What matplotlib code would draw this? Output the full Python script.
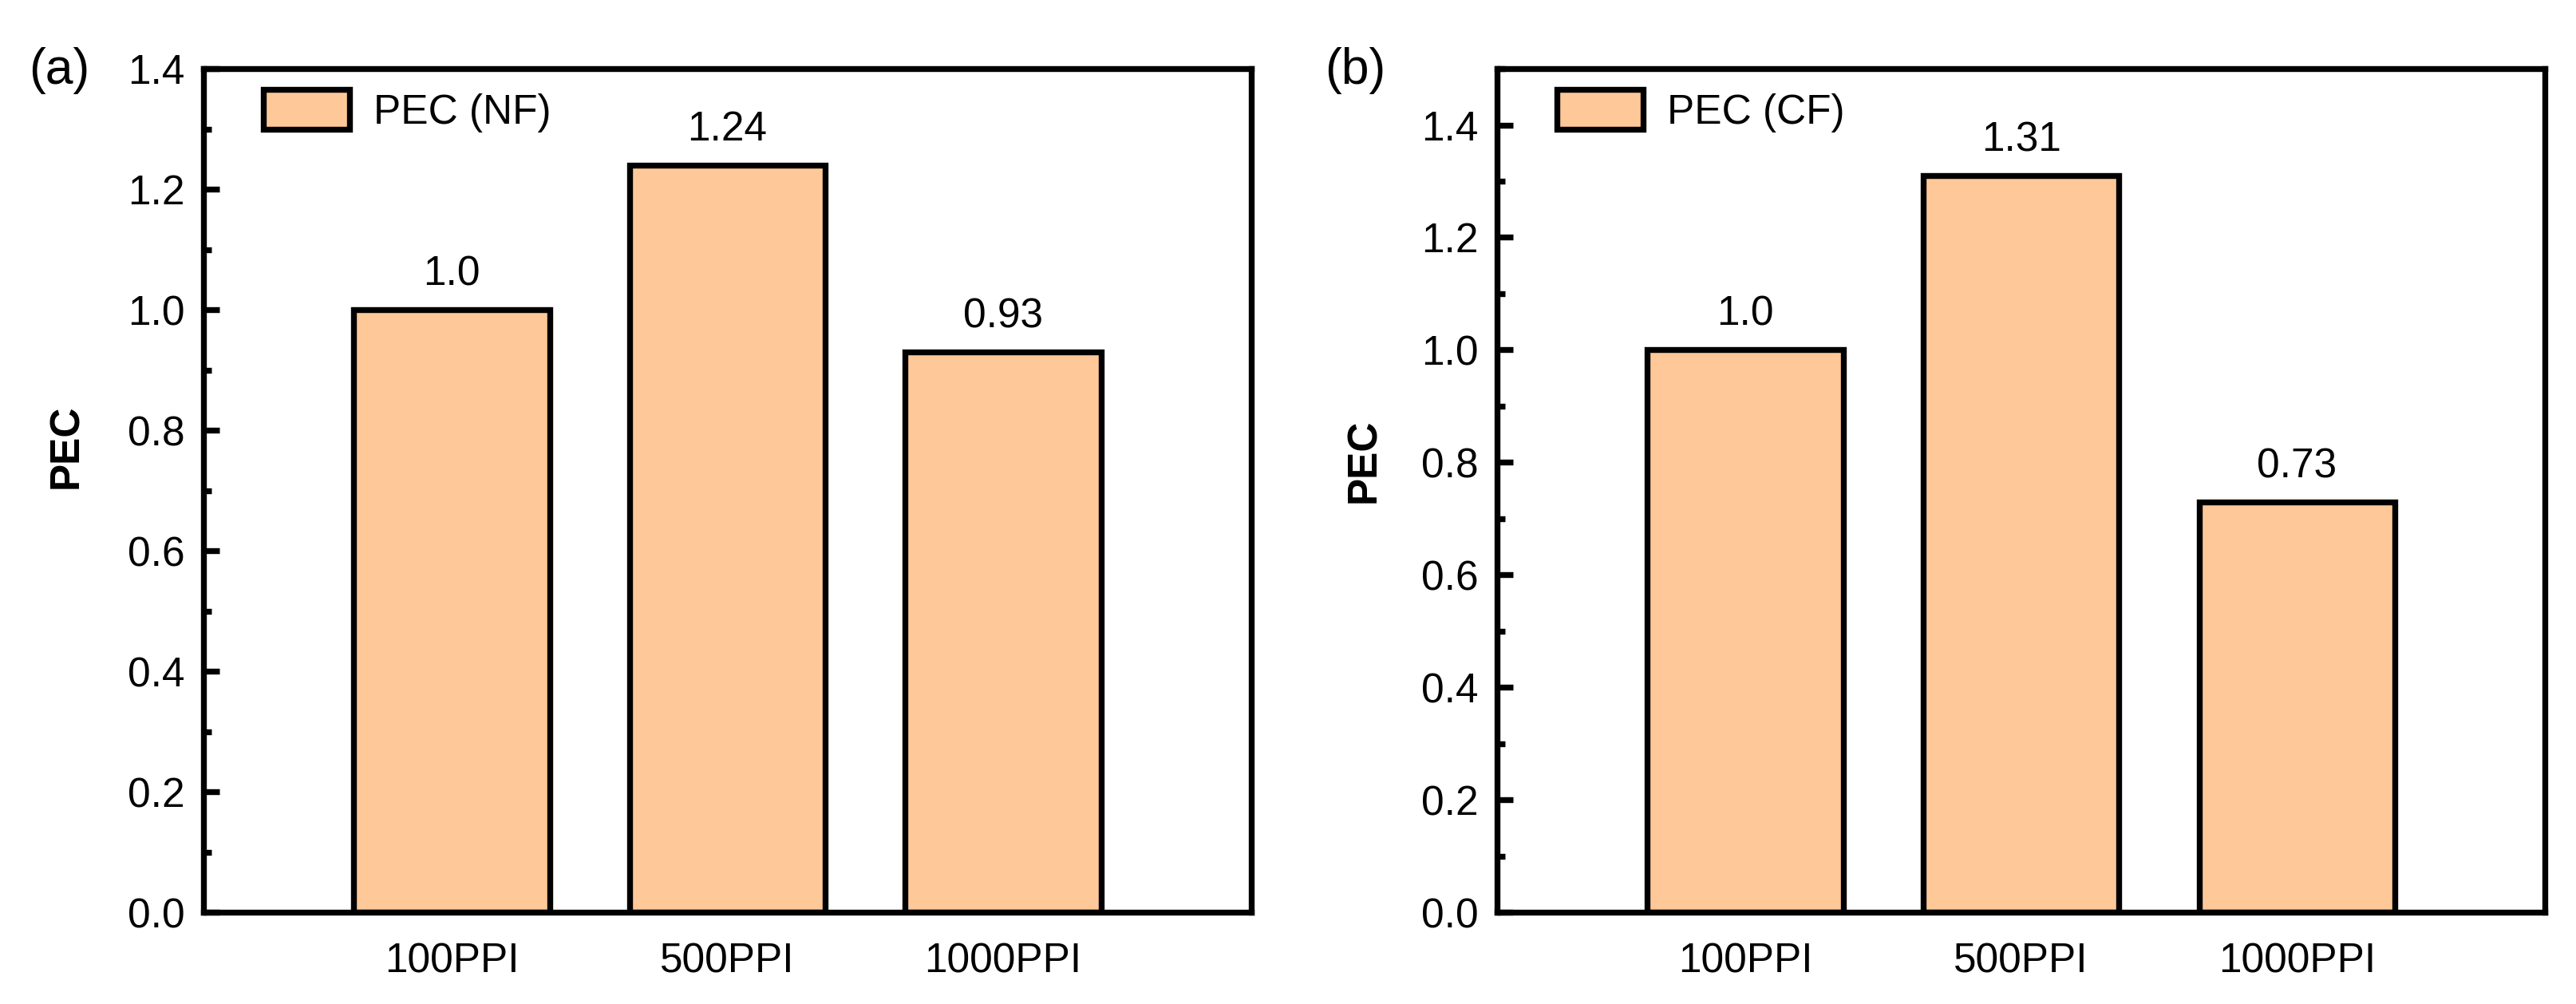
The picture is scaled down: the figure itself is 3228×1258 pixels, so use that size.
import matplotlib
matplotlib.use("Agg")
import matplotlib.pyplot as plt
import numpy as np
from matplotlib.ticker import MultipleLocator

plt.rcParams['font.family'] = ['Liberation Sans', 'DejaVu Sans']

categories = ['100PPI', '500PPI', '1000PPI']
pec_nf = [1.0, 1.24, 0.93]
pec_cf = [1.0, 1.31, 0.73]
labels_nf = ['1.0', '1.24', '0.93']
labels_cf = ['1.0', '1.31', '0.73']

bar_color = '#FEC898'
fs = 37
lw = 5.3

fig = plt.figure(figsize=(32.28, 12.58), dpi=100)
ax1 = fig.add_axes([0.0790, 0.0914, 0.4068, 0.8402])
ax2 = fig.add_axes([0.5812, 0.0914, 0.4068, 0.8402])

panels = [
    (ax1, pec_nf, labels_nf, 'PEC (NF)', 1.4, '(a)', 36, (-0.112, 0.552)),
    (ax2, pec_cf, labels_cf, 'PEC (CF)', 1.5, '(b)', 1660, (-0.108, 0.535)),
]

x = np.arange(1, len(categories) + 1)
for ax, vals, labs, leg, ytop, tag, tagx, ylab_xy in panels:
    bars = ax.bar(x, vals, width=0.71, color=bar_color, edgecolor='black',
                  linewidth=lw, label=leg, zorder=2)
    for xi, v, t in zip(x, vals, labs):
        ax.annotate(t, (xi, v), xytext=(0, 14), textcoords='offset points',
                    ha='center', va='bottom', fontsize=fs)
    ax.set_xlim(0.1, 3.9)
    ax.set_ylim(0, ytop)
    ax.set_xticks(x)
    ax.set_xticklabels(categories)
    ax.yaxis.set_major_locator(MultipleLocator(0.2))
    ax.yaxis.set_minor_locator(MultipleLocator(0.1))
    ax.tick_params(axis='y', which='major', direction='in', length=14.5, width=lw,
                   labelsize=fs, pad=17)
    ax.tick_params(axis='y', which='minor', direction='in', length=7, width=lw)
    ax.tick_params(axis='x', which='both', length=0, labelsize=fs, pad=27)
    for s in ax.spines.values():
        s.set_linewidth(lw)
    ax.set_ylabel('PEC', fontsize=fs, fontweight='bold')
    ax.yaxis.set_label_coords(*ylab_xy)
    ax.legend(loc='upper left', bbox_to_anchor=(0.057, 0.975), frameon=False,
              fontsize=fs, handlelength=2.1, handleheight=1.12,
              handletextpad=0.58, borderpad=0, borderaxespad=0)
    fig.text(tagx / 3228, 1 - 89 / 1258, tag, fontsize=45, ha='left', va='center')

fig.savefig('out.png', dpi=100)
